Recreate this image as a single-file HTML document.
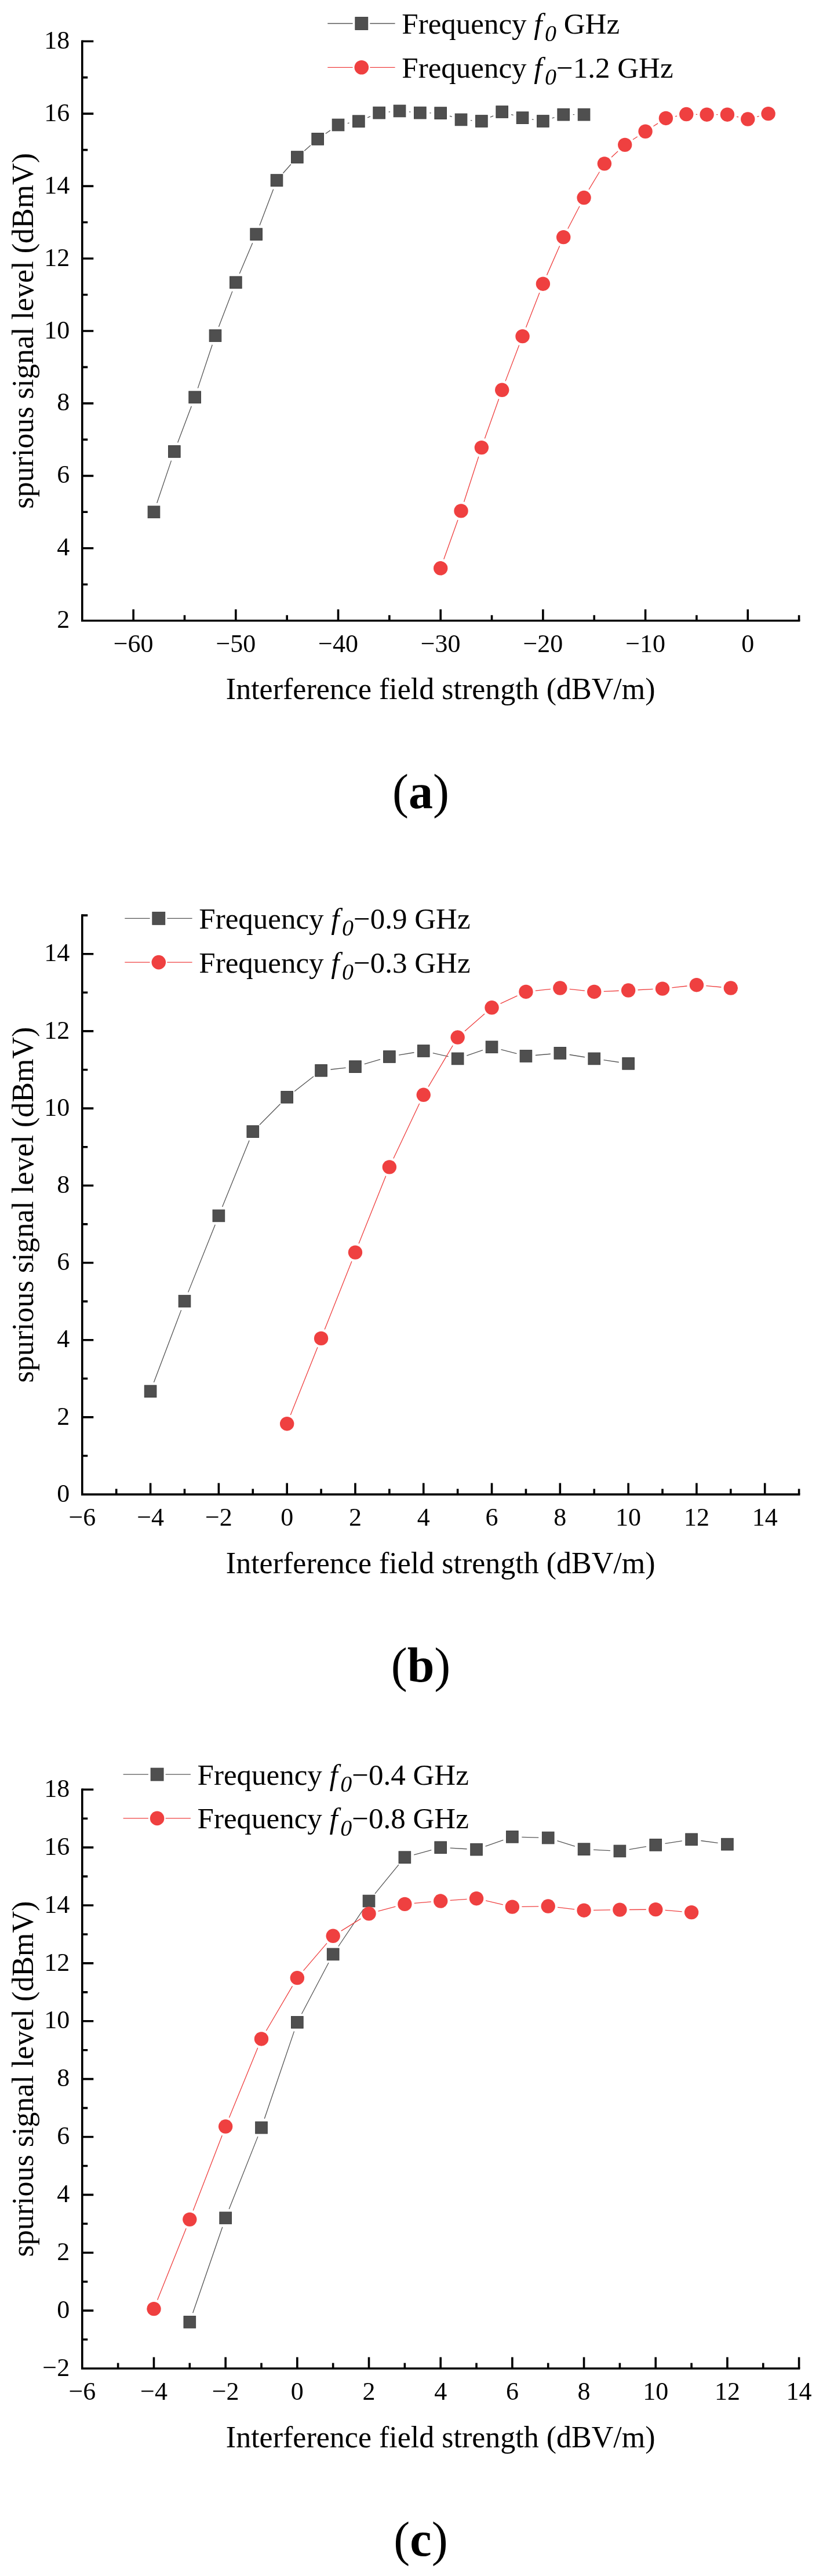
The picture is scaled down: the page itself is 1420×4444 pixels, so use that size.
<!DOCTYPE html>
<html><head><meta charset="utf-8"><style>
html,body{margin:0;padding:0;background:#fff;}
body{width:1420px;height:4444px;overflow:hidden;}
svg{display:block;will-change:transform;}
text{font-family:"Liberation Serif", serif;fill:#000;}
</style></head><body>
<svg width="1420" height="4444" viewBox="0 0 1420 4444">
<rect width="1420" height="4444" fill="#fff"/>
<path d="M141.8 69.4V1070.7H1380.4" fill="none" stroke="#000" stroke-width="3.6" stroke-linejoin="miter" stroke-linecap="butt"/>
<path d="M141.8 1008.23h9.5 M141.8 945.76h19.5 M141.8 883.29h9.5 M141.8 820.83h19.5 M141.8 758.36h9.5 M141.8 695.89h19.5 M141.8 633.42h9.5 M141.8 570.95h19.5 M141.8 508.48h9.5 M141.8 446.01h19.5 M141.8 383.54h9.5 M141.8 321.08h19.5 M141.8 258.61h9.5 M141.8 196.14h19.5 M141.8 133.67h9.5 M141.8 71.2h19.5 M230.14 1070.7v-19.5 M318.49 1070.7v-9.5 M406.83 1070.7v-19.5 M495.17 1070.7v-9.5 M583.51 1070.7v-19.5 M671.86 1070.7v-9.5 M760.2 1070.7v-19.5 M848.54 1070.7v-9.5 M936.89 1070.7v-19.5 M1025.23 1070.7v-9.5 M1113.57 1070.7v-19.5 M1201.91 1070.7v-9.5 M1290.26 1070.7v-19.5 M1378.6 1070.7v-9.5" stroke="#000" stroke-width="3.6" fill="none"/>
<text x="120.2" y="1083.3" text-anchor="end" font-size="44">2</text>
<text x="120.2" y="958.36" text-anchor="end" font-size="44">4</text>
<text x="120.2" y="833.43" text-anchor="end" font-size="44">6</text>
<text x="120.2" y="708.49" text-anchor="end" font-size="44">8</text>
<text x="120.2" y="583.55" text-anchor="end" font-size="44">10</text>
<text x="120.2" y="458.61" text-anchor="end" font-size="44">12</text>
<text x="120.2" y="333.68" text-anchor="end" font-size="44">14</text>
<text x="120.2" y="208.74" text-anchor="end" font-size="44">16</text>
<text x="120.2" y="83.8" text-anchor="end" font-size="44">18</text>
<text x="230.14" y="1125" text-anchor="middle" font-size="44">−60</text>
<text x="406.83" y="1125" text-anchor="middle" font-size="44">−50</text>
<text x="583.51" y="1125" text-anchor="middle" font-size="44">−40</text>
<text x="760.2" y="1125" text-anchor="middle" font-size="44">−30</text>
<text x="936.89" y="1125" text-anchor="middle" font-size="44">−20</text>
<text x="1113.57" y="1125" text-anchor="middle" font-size="44">−10</text>
<text x="1290.26" y="1125" text-anchor="middle" font-size="44">0</text>
<text x="760.2" y="1206.4" text-anchor="middle" font-size="52">Interference field strength (dBV/m)</text>
<text transform="translate(56.5 570.95) rotate(-90)" x="0" y="0" text-anchor="middle" font-size="52">spurious signal level (dBmV)</text>
<text x="726" y="1393.7" text-anchor="middle" font-size="84">(<tspan font-weight="bold">a</tspan>)</text>
<path d="M270.77 867.67L295.52 794.6 M306.64 763.53L330.33 700.71 M341.36 669.61L366.28 594.73 M377.42 563.67L400.9 502.64 M413.29 472.06L435.71 419.34 M448.02 388.73L471.65 326.51 M488.43 298.72L501.91 283.46 M525.2 260.17L535.81 250.79 M561.76 230.5L569.93 224.87 M599.76 212.63L602.6 212.13 M634.1 202.95L638.94 200.95 M670.62 193.16L673.09 192.93 M705.96 192.93L708.43 193.16 M741.36 194.87L743.7 194.9 M775.92 200.17L779.82 201.42 M811.99 207.64L814.42 207.81 M845.91 202.2L851.18 199.82 M882.07 197.58L885.69 198.63 M917.83 205.87L920.6 206.33 M952.6 203.98L956.51 202.73 M988.72 197.7L991.06 197.7" stroke="#555555" stroke-width="1.3" fill="none"/>
<rect x="255.18" y="872.99" width="20.6" height="20.6" fill="#4f4f4f" stroke="#3f3f3f" stroke-width="1"/>
<rect x="290.52" y="768.67" width="20.6" height="20.6" fill="#4f4f4f" stroke="#3f3f3f" stroke-width="1"/>
<rect x="325.85" y="674.97" width="20.6" height="20.6" fill="#4f4f4f" stroke="#3f3f3f" stroke-width="1"/>
<rect x="361.19" y="568.77" width="20.6" height="20.6" fill="#4f4f4f" stroke="#3f3f3f" stroke-width="1"/>
<rect x="396.53" y="476.94" width="20.6" height="20.6" fill="#4f4f4f" stroke="#3f3f3f" stroke-width="1"/>
<rect x="431.87" y="393.86" width="20.6" height="20.6" fill="#4f4f4f" stroke="#3f3f3f" stroke-width="1"/>
<rect x="467.2" y="300.78" width="20.6" height="20.6" fill="#4f4f4f" stroke="#3f3f3f" stroke-width="1"/>
<rect x="502.54" y="260.8" width="20.6" height="20.6" fill="#4f4f4f" stroke="#3f3f3f" stroke-width="1"/>
<rect x="537.88" y="229.57" width="20.6" height="20.6" fill="#4f4f4f" stroke="#3f3f3f" stroke-width="1"/>
<rect x="573.21" y="205.2" width="20.6" height="20.6" fill="#4f4f4f" stroke="#3f3f3f" stroke-width="1"/>
<rect x="608.55" y="198.96" width="20.6" height="20.6" fill="#4f4f4f" stroke="#3f3f3f" stroke-width="1"/>
<rect x="643.89" y="184.34" width="20.6" height="20.6" fill="#4f4f4f" stroke="#3f3f3f" stroke-width="1"/>
<rect x="679.23" y="181.15" width="20.6" height="20.6" fill="#4f4f4f" stroke="#3f3f3f" stroke-width="1"/>
<rect x="714.56" y="184.34" width="20.6" height="20.6" fill="#4f4f4f" stroke="#3f3f3f" stroke-width="1"/>
<rect x="749.9" y="184.84" width="20.6" height="20.6" fill="#4f4f4f" stroke="#3f3f3f" stroke-width="1"/>
<rect x="785.24" y="196.14" width="20.6" height="20.6" fill="#4f4f4f" stroke="#3f3f3f" stroke-width="1"/>
<rect x="820.57" y="198.71" width="20.6" height="20.6" fill="#4f4f4f" stroke="#3f3f3f" stroke-width="1"/>
<rect x="855.91" y="182.71" width="20.6" height="20.6" fill="#4f4f4f" stroke="#3f3f3f" stroke-width="1"/>
<rect x="891.25" y="192.9" width="20.6" height="20.6" fill="#4f4f4f" stroke="#3f3f3f" stroke-width="1"/>
<rect x="926.59" y="198.71" width="20.6" height="20.6" fill="#4f4f4f" stroke="#3f3f3f" stroke-width="1"/>
<rect x="961.92" y="187.4" width="20.6" height="20.6" fill="#4f4f4f" stroke="#3f3f3f" stroke-width="1"/>
<rect x="997.26" y="187.4" width="20.6" height="20.6" fill="#4f4f4f" stroke="#3f3f3f" stroke-width="1"/>
<path d="M765.75 964.77L789.98 896.96 M800.61 865.72L825.8 787.8 M836.4 756.55L860.68 688.32 M872.09 657.36L895.67 595.55 M907.56 564.77L930.88 505.11 M943.51 474.63L965.6 424.27 M979.82 394.51L999.96 355.71 M1016.07 326.93L1034.39 296.48 M1055.04 271.18L1066.09 261.03 M1092.04 240.83L1099.76 235.78 M1127.44 217.8L1135.04 212.89 M1165.11 200.8L1168.05 200.22 M1200.74 197.37L1203.09 197.41 M1236.08 197.7L1238.42 197.7 M1271.03 201.26L1274.15 201.95 M1306.21 201.28L1309.65 200.37" stroke="#ef4040" stroke-width="1.3" fill="none"/>
<circle cx="760.2" cy="980.31" r="12.2" fill="#ef4040"/>
<circle cx="795.54" cy="881.42" r="12.2" fill="#ef4040"/>
<circle cx="830.87" cy="772.1" r="12.2" fill="#ef4040"/>
<circle cx="866.21" cy="672.77" r="12.2" fill="#ef4040"/>
<circle cx="901.55" cy="580.13" r="12.2" fill="#ef4040"/>
<circle cx="936.89" cy="489.74" r="12.2" fill="#ef4040"/>
<circle cx="972.22" cy="409.16" r="12.2" fill="#ef4040"/>
<circle cx="1007.56" cy="341.07" r="12.2" fill="#ef4040"/>
<circle cx="1042.9" cy="282.34" r="12.2" fill="#ef4040"/>
<circle cx="1078.23" cy="249.86" r="12.2" fill="#ef4040"/>
<circle cx="1113.57" cy="226.75" r="12.2" fill="#ef4040"/>
<circle cx="1148.91" cy="203.95" r="12.2" fill="#ef4040"/>
<circle cx="1184.25" cy="197.07" r="12.2" fill="#ef4040"/>
<circle cx="1219.58" cy="197.7" r="12.2" fill="#ef4040"/>
<circle cx="1254.92" cy="197.7" r="12.2" fill="#ef4040"/>
<circle cx="1290.26" cy="205.51" r="12.2" fill="#ef4040"/>
<circle cx="1325.59" cy="196.14" r="12.2" fill="#ef4040"/>
<path d="M565.3 40.5h43.3M638.3 40.5h43.3" stroke="#555555" stroke-width="1.3"/>
<rect x="612.9" y="29.6" width="21.8" height="21.8" fill="#4f4f4f" stroke="#3f3f3f" stroke-width="1"/>
<text x="693.3" y="58" font-size="51">Frequency <tspan font-style="italic">f</tspan><tspan font-style="italic" font-size="40" dx="4.5" dy="12.5">0</tspan><tspan dy="-12.5"> GHz</tspan></text>
<path d="M565.3 116.3h43.3M638.3 116.3h43.3" stroke="#ef4040" stroke-width="1.3"/>
<circle cx="623.8" cy="116.3" r="12.3" fill="#ef4040"/>
<text x="693.3" y="133.8" font-size="51">Frequency <tspan font-style="italic">f</tspan><tspan font-style="italic" font-size="40" dx="4.5" dy="12.5">0</tspan><tspan dy="-12.5">−1.2 GHz</tspan></text>
<path d="M141.8 1577.3V2578.1H1380.4" fill="none" stroke="#000" stroke-width="3.6" stroke-linejoin="miter" stroke-linecap="butt"/>
<path d="M141.8 2511.5h9.5 M141.8 2444.9h19.5 M141.8 2378.3h9.5 M141.8 2311.7h19.5 M141.8 2245.1h9.5 M141.8 2178.5h19.5 M141.8 2111.9h9.5 M141.8 2045.3h19.5 M141.8 1978.7h9.5 M141.8 1912.1h19.5 M141.8 1845.5h9.5 M141.8 1778.9h19.5 M141.8 1712.3h9.5 M141.8 1645.7h19.5 M141.8 1579.1h9.5 M200.7 2578.1v-9.5 M259.59 2578.1v-19.5 M318.49 2578.1v-9.5 M377.38 2578.1v-19.5 M436.28 2578.1v-9.5 M495.17 2578.1v-19.5 M554.07 2578.1v-9.5 M612.96 2578.1v-19.5 M671.86 2578.1v-9.5 M730.75 2578.1v-19.5 M789.65 2578.1v-9.5 M848.54 2578.1v-19.5 M907.44 2578.1v-9.5 M966.33 2578.1v-19.5 M1025.23 2578.1v-9.5 M1084.12 2578.1v-19.5 M1143.02 2578.1v-9.5 M1201.91 2578.1v-19.5 M1260.81 2578.1v-9.5 M1319.7 2578.1v-19.5 M1378.6 2578.1v-9.5" stroke="#000" stroke-width="3.6" fill="none"/>
<text x="120.2" y="2590.7" text-anchor="end" font-size="44">0</text>
<text x="120.2" y="2457.5" text-anchor="end" font-size="44">2</text>
<text x="120.2" y="2324.3" text-anchor="end" font-size="44">4</text>
<text x="120.2" y="2191.1" text-anchor="end" font-size="44">6</text>
<text x="120.2" y="2057.9" text-anchor="end" font-size="44">8</text>
<text x="120.2" y="1924.7" text-anchor="end" font-size="44">10</text>
<text x="120.2" y="1791.5" text-anchor="end" font-size="44">12</text>
<text x="120.2" y="1658.3" text-anchor="end" font-size="44">14</text>
<text x="141.8" y="2632.4" text-anchor="middle" font-size="44">−6</text>
<text x="259.59" y="2632.4" text-anchor="middle" font-size="44">−4</text>
<text x="377.38" y="2632.4" text-anchor="middle" font-size="44">−2</text>
<text x="495.17" y="2632.4" text-anchor="middle" font-size="44">0</text>
<text x="612.96" y="2632.4" text-anchor="middle" font-size="44">2</text>
<text x="730.75" y="2632.4" text-anchor="middle" font-size="44">4</text>
<text x="848.54" y="2632.4" text-anchor="middle" font-size="44">6</text>
<text x="966.33" y="2632.4" text-anchor="middle" font-size="44">8</text>
<text x="1084.12" y="2632.4" text-anchor="middle" font-size="44">10</text>
<text x="1201.91" y="2632.4" text-anchor="middle" font-size="44">12</text>
<text x="1319.7" y="2632.4" text-anchor="middle" font-size="44">14</text>
<text x="760.2" y="2713.8" text-anchor="middle" font-size="52">Interference field strength (dBV/m)</text>
<text transform="translate(56.5 2078.6) rotate(-90)" x="0" y="0" text-anchor="middle" font-size="52">spurious signal level (dBmV)</text>
<text x="726" y="2901.1" text-anchor="middle" font-size="84">(<tspan font-weight="bold">b</tspan>)</text>
<path d="M265.43 2384.78L312.64 2260.13 M324.61 2229.38L371.26 2112.7 M383.58 2082.09L430.08 1967.42 M447.9 1940.42L483.55 1904.5 M508.18 1882.64L541.06 1856.98 M570.46 1844.98L596.57 1842.03 M628.8 1835.55L656.02 1827.61 M688.12 1820.23L714.48 1815.76 M746.84 1816.66L773.56 1822.73 M805.26 1821.05L832.93 1811.61 M864.49 1810.51L891.49 1817.69 M923.88 1820.51L949.89 1818.27 M982.62 1819.5L1008.94 1823.75 M1041.56 1828.73L1067.79 1832.5" stroke="#555555" stroke-width="1.3" fill="none"/>
<rect x="249.29" y="2389.91" width="20.6" height="20.6" fill="#4f4f4f" stroke="#3f3f3f" stroke-width="1"/>
<rect x="308.19" y="2234.4" width="20.6" height="20.6" fill="#4f4f4f" stroke="#3f3f3f" stroke-width="1"/>
<rect x="367.08" y="2087.08" width="20.6" height="20.6" fill="#4f4f4f" stroke="#3f3f3f" stroke-width="1"/>
<rect x="425.98" y="1941.83" width="20.6" height="20.6" fill="#4f4f4f" stroke="#3f3f3f" stroke-width="1"/>
<rect x="484.87" y="1882.49" width="20.6" height="20.6" fill="#4f4f4f" stroke="#3f3f3f" stroke-width="1"/>
<rect x="543.77" y="1836.53" width="20.6" height="20.6" fill="#4f4f4f" stroke="#3f3f3f" stroke-width="1"/>
<rect x="602.66" y="1829.87" width="20.6" height="20.6" fill="#4f4f4f" stroke="#3f3f3f" stroke-width="1"/>
<rect x="661.56" y="1812.69" width="20.6" height="20.6" fill="#4f4f4f" stroke="#3f3f3f" stroke-width="1"/>
<rect x="720.45" y="1802.7" width="20.6" height="20.6" fill="#4f4f4f" stroke="#3f3f3f" stroke-width="1"/>
<rect x="779.35" y="1816.09" width="20.6" height="20.6" fill="#4f4f4f" stroke="#3f3f3f" stroke-width="1"/>
<rect x="838.24" y="1795.97" width="20.6" height="20.6" fill="#4f4f4f" stroke="#3f3f3f" stroke-width="1"/>
<rect x="897.14" y="1811.62" width="20.6" height="20.6" fill="#4f4f4f" stroke="#3f3f3f" stroke-width="1"/>
<rect x="956.03" y="1806.56" width="20.6" height="20.6" fill="#4f4f4f" stroke="#3f3f3f" stroke-width="1"/>
<rect x="1014.93" y="1816.09" width="20.6" height="20.6" fill="#4f4f4f" stroke="#3f3f3f" stroke-width="1"/>
<rect x="1073.82" y="1824.54" width="20.6" height="20.6" fill="#4f4f4f" stroke="#3f3f3f" stroke-width="1"/>
<path d="M501.3 2440.9L547.94 2324.22 M560.16 2293.57L606.87 2175.92 M619.09 2145.26L665.73 2028.65 M678.91 1998.42L723.7 1903.71 M739.17 1874.6L781.23 1803.75 M802.09 1778.72L836.1 1749.11 M863.51 1731.33L892.47 1717.91 M923.84 1709.17L949.93 1706.31 M982.73 1706.31L1008.83 1709.17 M1041.71 1710.3L1067.64 1709.24 M1100.6 1707.75L1126.54 1706.46 M1159.42 1703.84L1185.51 1700.98 M1218.35 1700.67L1244.38 1703.02" stroke="#ef4040" stroke-width="1.3" fill="none"/>
<circle cx="495.17" cy="2456.22" r="12.2" fill="#ef4040"/>
<circle cx="554.07" cy="2308.9" r="12.2" fill="#ef4040"/>
<circle cx="612.96" cy="2160.58" r="12.2" fill="#ef4040"/>
<circle cx="671.86" cy="2013.33" r="12.2" fill="#ef4040"/>
<circle cx="730.75" cy="1888.79" r="12.2" fill="#ef4040"/>
<circle cx="789.65" cy="1789.56" r="12.2" fill="#ef4040"/>
<circle cx="848.54" cy="1738.27" r="12.2" fill="#ef4040"/>
<circle cx="907.44" cy="1710.97" r="12.2" fill="#ef4040"/>
<circle cx="966.33" cy="1704.51" r="12.2" fill="#ef4040"/>
<circle cx="1025.23" cy="1710.97" r="12.2" fill="#ef4040"/>
<circle cx="1084.12" cy="1708.57" r="12.2" fill="#ef4040"/>
<circle cx="1143.02" cy="1705.64" r="12.2" fill="#ef4040"/>
<circle cx="1201.91" cy="1699.18" r="12.2" fill="#ef4040"/>
<circle cx="1260.81" cy="1704.51" r="12.2" fill="#ef4040"/>
<path d="M215.3 1584.3h43.3M288.3 1584.3h43.3" stroke="#555555" stroke-width="1.3"/>
<rect x="262.9" y="1573.4" width="21.8" height="21.8" fill="#4f4f4f" stroke="#3f3f3f" stroke-width="1"/>
<text x="343.3" y="1601.8" font-size="51">Frequency <tspan font-style="italic">f</tspan><tspan font-style="italic" font-size="40" dx="4.5" dy="12.5">0</tspan><tspan dy="-12.5">−0.9 GHz</tspan></text>
<path d="M215.3 1660.1h43.3M288.3 1660.1h43.3" stroke="#ef4040" stroke-width="1.3"/>
<circle cx="273.8" cy="1660.1" r="12.3" fill="#ef4040"/>
<text x="343.3" y="1677.6" font-size="51">Frequency <tspan font-style="italic">f</tspan><tspan font-style="italic" font-size="40" dx="4.5" dy="12.5">0</tspan><tspan dy="-12.5">−0.3 GHz</tspan></text>
<path d="M141.8 3085.5V4086H1380.4" fill="none" stroke="#000" stroke-width="3.6" stroke-linejoin="miter" stroke-linecap="butt"/>
<path d="M141.8 4036.07h9.5 M141.8 3986.13h19.5 M141.8 3936.2h9.5 M141.8 3886.26h19.5 M141.8 3836.32h9.5 M141.8 3786.39h19.5 M141.8 3736.45h9.5 M141.8 3686.52h19.5 M141.8 3636.59h9.5 M141.8 3586.65h19.5 M141.8 3536.72h9.5 M141.8 3486.78h19.5 M141.8 3436.85h9.5 M141.8 3386.91h19.5 M141.8 3336.98h9.5 M141.8 3287.04h19.5 M141.8 3237.11h9.5 M141.8 3187.17h19.5 M141.8 3137.24h9.5 M141.8 3087.3h19.5 M203.64 4086v-9.5 M265.48 4086v-19.5 M327.32 4086v-9.5 M389.16 4086v-19.5 M451 4086v-9.5 M512.84 4086v-19.5 M574.68 4086v-9.5 M636.52 4086v-19.5 M698.36 4086v-9.5 M760.2 4086v-19.5 M822.04 4086v-9.5 M883.88 4086v-19.5 M945.72 4086v-9.5 M1007.56 4086v-19.5 M1069.4 4086v-9.5 M1131.24 4086v-19.5 M1193.08 4086v-9.5 M1254.92 4086v-19.5 M1316.76 4086v-9.5 M1378.6 4086v-19.5" stroke="#000" stroke-width="3.6" fill="none"/>
<text x="120.2" y="4098.6" text-anchor="end" font-size="44">−2</text>
<text x="120.2" y="3998.73" text-anchor="end" font-size="44">0</text>
<text x="120.2" y="3898.86" text-anchor="end" font-size="44">2</text>
<text x="120.2" y="3798.99" text-anchor="end" font-size="44">4</text>
<text x="120.2" y="3699.12" text-anchor="end" font-size="44">6</text>
<text x="120.2" y="3599.25" text-anchor="end" font-size="44">8</text>
<text x="120.2" y="3499.38" text-anchor="end" font-size="44">10</text>
<text x="120.2" y="3399.51" text-anchor="end" font-size="44">12</text>
<text x="120.2" y="3299.64" text-anchor="end" font-size="44">14</text>
<text x="120.2" y="3199.77" text-anchor="end" font-size="44">16</text>
<text x="120.2" y="3099.9" text-anchor="end" font-size="44">18</text>
<text x="141.8" y="4140.3" text-anchor="middle" font-size="44">−6</text>
<text x="265.48" y="4140.3" text-anchor="middle" font-size="44">−4</text>
<text x="389.16" y="4140.3" text-anchor="middle" font-size="44">−2</text>
<text x="512.84" y="4140.3" text-anchor="middle" font-size="44">0</text>
<text x="636.52" y="4140.3" text-anchor="middle" font-size="44">2</text>
<text x="760.2" y="4140.3" text-anchor="middle" font-size="44">4</text>
<text x="883.88" y="4140.3" text-anchor="middle" font-size="44">6</text>
<text x="1007.56" y="4140.3" text-anchor="middle" font-size="44">8</text>
<text x="1131.24" y="4140.3" text-anchor="middle" font-size="44">10</text>
<text x="1254.92" y="4140.3" text-anchor="middle" font-size="44">12</text>
<text x="1378.6" y="4140.3" text-anchor="middle" font-size="44">14</text>
<text x="760.2" y="4221.7" text-anchor="middle" font-size="52">Interference field strength (dBV/m)</text>
<text transform="translate(56.5 3586.65) rotate(-90)" x="0" y="0" text-anchor="middle" font-size="52">spurious signal level (dBmV)</text>
<text x="726" y="4409" text-anchor="middle" font-size="84">(<tspan font-weight="bold">c</tspan>)</text>
<path d="M332.69 3990.3L383.79 3841.94 M395.25 3811L444.91 3685.88 M456.31 3654.92L507.53 3504.4 M520.53 3474.18L566.99 3386.03 M583.89 3357.74L627.31 3293.24 M646.99 3266.8L687.89 3216.95 M714.27 3199.83L744.29 3191.59 M776.67 3188.14L805.57 3189.75 M837.6 3185.17L868.32 3174.33 M900.37 3169.3L929.23 3170.09 M961.45 3175.53L991.83 3185.18 M1024.04 3191.03L1052.92 3192.55 M1085.66 3190.63L1114.98 3185.61 M1147.55 3180.31L1176.77 3175.8 M1209.43 3175.51L1238.57 3179.46" stroke="#555555" stroke-width="1.3" fill="none"/>
<rect x="317.02" y="3995.6" width="20.6" height="20.6" fill="#4f4f4f" stroke="#3f3f3f" stroke-width="1"/>
<rect x="378.86" y="3816.04" width="20.6" height="20.6" fill="#4f4f4f" stroke="#3f3f3f" stroke-width="1"/>
<rect x="440.7" y="3660.24" width="20.6" height="20.6" fill="#4f4f4f" stroke="#3f3f3f" stroke-width="1"/>
<rect x="502.54" y="3478.48" width="20.6" height="20.6" fill="#4f4f4f" stroke="#3f3f3f" stroke-width="1"/>
<rect x="564.38" y="3361.13" width="20.6" height="20.6" fill="#4f4f4f" stroke="#3f3f3f" stroke-width="1"/>
<rect x="626.22" y="3269.25" width="20.6" height="20.6" fill="#4f4f4f" stroke="#3f3f3f" stroke-width="1"/>
<rect x="688.06" y="3193.9" width="20.6" height="20.6" fill="#4f4f4f" stroke="#3f3f3f" stroke-width="1"/>
<rect x="749.9" y="3176.92" width="20.6" height="20.6" fill="#4f4f4f" stroke="#3f3f3f" stroke-width="1"/>
<rect x="811.74" y="3180.37" width="20.6" height="20.6" fill="#4f4f4f" stroke="#3f3f3f" stroke-width="1"/>
<rect x="873.58" y="3158.54" width="20.6" height="20.6" fill="#4f4f4f" stroke="#3f3f3f" stroke-width="1"/>
<rect x="935.42" y="3160.24" width="20.6" height="20.6" fill="#4f4f4f" stroke="#3f3f3f" stroke-width="1"/>
<rect x="997.26" y="3179.87" width="20.6" height="20.6" fill="#4f4f4f" stroke="#3f3f3f" stroke-width="1"/>
<rect x="1059.1" y="3183.11" width="20.6" height="20.6" fill="#4f4f4f" stroke="#3f3f3f" stroke-width="1"/>
<rect x="1120.94" y="3172.53" width="20.6" height="20.6" fill="#4f4f4f" stroke="#3f3f3f" stroke-width="1"/>
<rect x="1182.78" y="3162.99" width="20.6" height="20.6" fill="#4f4f4f" stroke="#3f3f3f" stroke-width="1"/>
<rect x="1244.62" y="3171.38" width="20.6" height="20.6" fill="#4f4f4f" stroke="#3f3f3f" stroke-width="1"/>
<path d="M271.62 3967.82L321.18 3844.15 M333.26 3813.44L383.22 3683.94 M395.41 3653.27L444.75 3532.76 M459.35 3503.26L504.49 3426.36 M523.56 3399.59L563.96 3352.36 M588.7 3331.12L622.5 3310.13 M652.46 3297.16L682.42 3289.15 M714.8 3283.47L743.76 3280.97 M776.66 3278.39L805.58 3276.36 M838.11 3278.96L867.81 3285.89 M900.38 3289.34L929.22 3288.83 M962.11 3290.44L991.17 3293.82 M1024.06 3295.44L1052.9 3294.92 M1085.9 3294.5L1114.74 3294.26 M1147.69 3295.46L1176.63 3297.8" stroke="#ef4040" stroke-width="1.3" fill="none"/>
<circle cx="265.48" cy="3983.13" r="12.2" fill="#ef4040"/>
<circle cx="327.32" cy="3828.83" r="12.2" fill="#ef4040"/>
<circle cx="389.16" cy="3668.54" r="12.2" fill="#ef4040"/>
<circle cx="451" cy="3517.49" r="12.2" fill="#ef4040"/>
<circle cx="512.84" cy="3412.13" r="12.2" fill="#ef4040"/>
<circle cx="574.68" cy="3339.82" r="12.2" fill="#ef4040"/>
<circle cx="636.52" cy="3301.42" r="12.2" fill="#ef4040"/>
<circle cx="698.36" cy="3284.89" r="12.2" fill="#ef4040"/>
<circle cx="760.2" cy="3279.55" r="12.2" fill="#ef4040"/>
<circle cx="822.04" cy="3275.21" r="12.2" fill="#ef4040"/>
<circle cx="883.88" cy="3289.64" r="12.2" fill="#ef4040"/>
<circle cx="945.72" cy="3288.54" r="12.2" fill="#ef4040"/>
<circle cx="1007.56" cy="3295.73" r="12.2" fill="#ef4040"/>
<circle cx="1069.4" cy="3294.63" r="12.2" fill="#ef4040"/>
<circle cx="1131.24" cy="3294.13" r="12.2" fill="#ef4040"/>
<circle cx="1193.08" cy="3299.12" r="12.2" fill="#ef4040"/>
<path d="M212.6 3061.1h43.3M285.6 3061.1h43.3" stroke="#555555" stroke-width="1.3"/>
<rect x="260.2" y="3050.2" width="21.8" height="21.8" fill="#4f4f4f" stroke="#3f3f3f" stroke-width="1"/>
<text x="340.6" y="3078.6" font-size="51">Frequency <tspan font-style="italic">f</tspan><tspan font-style="italic" font-size="40" dx="4.5" dy="12.5">0</tspan><tspan dy="-12.5">−0.4 GHz</tspan></text>
<path d="M212.6 3136.9h43.3M285.6 3136.9h43.3" stroke="#ef4040" stroke-width="1.3"/>
<circle cx="271.1" cy="3136.9" r="12.3" fill="#ef4040"/>
<text x="340.6" y="3154.4" font-size="51">Frequency <tspan font-style="italic">f</tspan><tspan font-style="italic" font-size="40" dx="4.5" dy="12.5">0</tspan><tspan dy="-12.5">−0.8 GHz</tspan></text>
</svg>
</body></html>
